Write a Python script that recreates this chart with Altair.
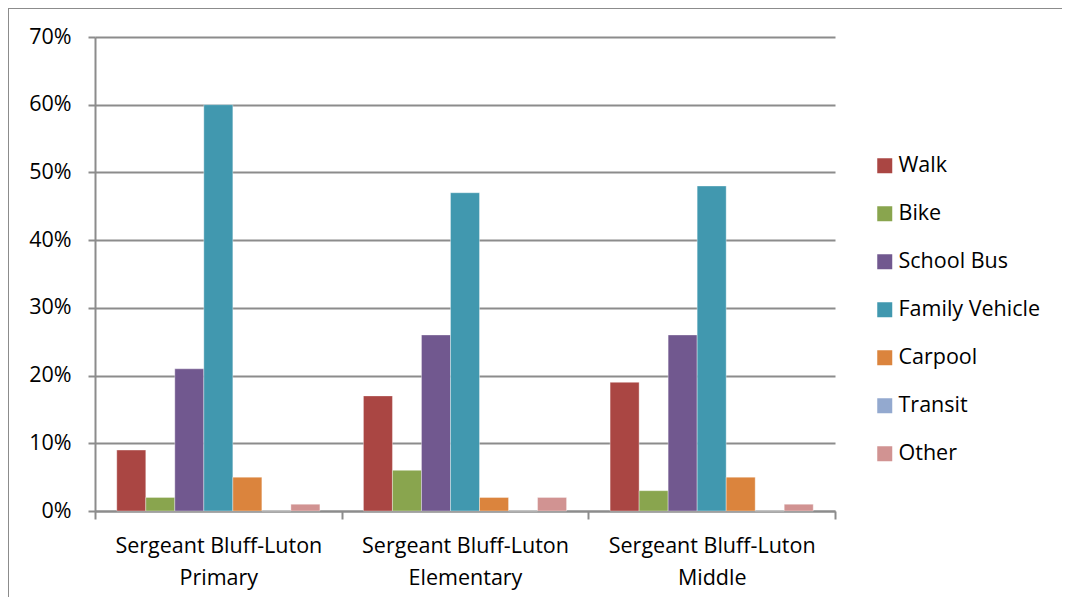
import altair as alt
import pandas as pd

schools = ["Sergeant Bluff-Luton|Primary", "Sergeant Bluff-Luton|Elementary", "Sergeant Bluff-Luton|Middle"]
modes = ["Walk", "Bike", "School Bus", "Family Vehicle", "Carpool", "Transit", "Other"]
colors = ["#AA4643", "#89A54E", "#71588F", "#4198AF", "#DB843D", "#93A9CF", "#D19392"]
primary = [0.09, 0.02, 0.21, 0.60, 0.05, 0.0, 0.01]
elementary = [0.17, 0.06, 0.26, 0.47, 0.02, 0.0, 0.02]
middle = [0.19, 0.03, 0.26, 0.48, 0.05, 0.0, 0.01]
y_ticks = [0, 0.1, 0.2, 0.3, 0.4, 0.5, 0.6, 0.7]

rows = []
for s, vals in zip(schools, [primary, elementary, middle]):
    for m, v in zip(modes, vals):
        rows.append({"school": s, "mode": m, "value": v})
df = pd.DataFrame(rows)

FONT = "Open Sans"
GRAY = "#8c8c8c"

bars = alt.Chart(df).mark_bar(stroke="white", strokeWidth=0.6, strokeOpacity=0.6).encode(
    x=alt.X("school:N", sort=schools, title=None,
            scale=alt.Scale(paddingInner=0, paddingOuter=0),
            axis=alt.Axis(tickBand="extent", labelAngle=0, labelExpr="split(datum.label, '|')",
                          labelFontSize=21.5, labelFont=FONT, labelColor="black",
                          labelLineHeight=32, labelPadding=16, labelLimit=400,
                          tickSize=8, tickColor=GRAY, tickWidth=2,
                          domainColor=GRAY, domainWidth=2, grid=False)),
    xOffset=alt.XOffset("mode:N", sort=modes, scale=alt.Scale(paddingInner=0, paddingOuter=0.75)),
    y=alt.Y("value:Q", title=None, scale=alt.Scale(domain=[0, 0.7], nice=False),
            axis=alt.Axis(values=y_ticks, format=".0%", labelFontSize=21.5, labelFont=FONT,
                          labelColor="black", labelPadding=17, tickSize=7, tickColor=GRAY,
                          tickWidth=2, domainColor=GRAY, domainWidth=2,
                          gridColor=GRAY, gridWidth=2)),
    color=alt.Color("mode:N", sort=modes, scale=alt.Scale(domain=modes, range=colors),
                    legend=alt.Legend(title=None, orient="none", legendX=779, legendY=118,
                                      symbolType="square", symbolSize=225, symbolStrokeWidth=0,
                                      labelFontSize=21.5, labelFont=FONT, labelColor="black",
                                      rowPadding=25, labelOffset=3)),
)

frame = alt.Data(values=[{}])
top_line = alt.Chart(frame).mark_rule(stroke=GRAY, strokeWidth=2).encode(
    x=alt.value(-87), x2=alt.value(1100), y=alt.value(-29)
)
left_line = alt.Chart(frame).mark_rule(stroke=GRAY, strokeWidth=2).encode(
    x=alt.value(-87), y=alt.value(-29), y2=alt.value(700)
)

chart = alt.layer(top_line, left_line, bars).properties(
    width=740, height=474,
    autosize=alt.AutoSizeParams(type="none"),
    padding={"left": 87, "top": 29, "right": 227, "bottom": 86},
).configure_view(stroke=None)

chart.save("out.html", embed_options={"renderer": "svg", "actions": False})
